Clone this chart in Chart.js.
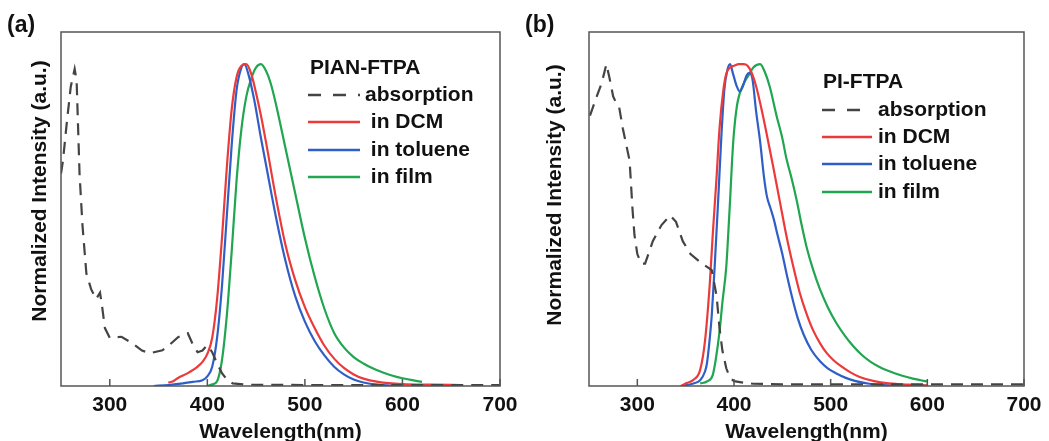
<!DOCTYPE html>
<html>
<head>
<meta charset="utf-8">
<script src="https://cdn.jsdelivr.net/npm/chart.js@4.4.1/dist/chart.umd.min.js"></script>
<style>
  body { margin: 0; background: #fff; }
  #wrap { position: relative; width: 1049px; height: 441px; overflow: hidden; }
  canvas { position: absolute; top: 0; }
</style>
</head>
<body>
<div id="wrap">
  <canvas id="chartA" width="520" height="441" style="left:0"></canvas>
  <canvas id="chartB" width="529" height="441" style="left:520px"></canvas>
</div>
<script>
// ---- data (wavelength in nm, normalized intensity) ----

// (a) PIAN-FTPA
const absA_nm  = [250, 252, 256, 260, 264, 266, 269, 272, 276, 281, 286, 290, 292, 295, 300, 312, 323, 333, 341, 354, 362, 370, 380, 385, 390, 395, 400, 405, 410, 415, 420, 426, 440, 500, 600, 700];
const absA_int = [0.66, 0.70, 0.82, 0.93, 0.985, 0.95, 0.66, 0.50, 0.35, 0.30, 0.27, 0.29, 0.25, 0.18, 0.15, 0.153, 0.133, 0.11, 0.102, 0.111, 0.13, 0.152, 0.164, 0.13, 0.105, 0.11, 0.127, 0.105, 0.07, 0.04, 0.02, 0.008, 0.004, 0.003, 0.003, 0.003];

const dcmA_nm  = [360, 365, 370, 380, 390, 395, 400, 405, 410, 415, 420, 425, 430, 435, 440, 445, 450, 455, 460, 470, 480, 490, 500, 510, 520, 530, 540, 550, 560, 575, 600, 630, 660];
const dcmA_int = [0.01, 0.015, 0.025, 0.04, 0.06, 0.075, 0.1, 0.15, 0.27, 0.46, 0.68, 0.86, 0.96, 0.995, 1.0, 0.97, 0.91, 0.84, 0.76, 0.59, 0.44, 0.33, 0.245, 0.18, 0.125, 0.085, 0.056, 0.036, 0.023, 0.013, 0.006, 0.004, 0.003];

const tolA_nm  = [345, 360, 375, 385, 395, 400, 405, 410, 415, 420, 425, 430, 435, 438, 442, 448, 455, 460, 470, 480, 490, 500, 510, 520, 530, 540, 550, 560, 575, 590, 600];
const tolA_int = [0.0, 0.003, 0.008, 0.013, 0.018, 0.03, 0.06, 0.15, 0.31, 0.53, 0.75, 0.92, 0.99, 1.0, 0.97, 0.89, 0.77, 0.69, 0.53, 0.39, 0.28, 0.2, 0.14, 0.095, 0.06, 0.036, 0.02, 0.011, 0.004, 0.001, 0.0];

const filmA_nm  = [400, 405, 410, 415, 420, 425, 430, 435, 440, 445, 450, 455, 460, 465, 470, 480, 490, 500, 510, 520, 530, 540, 550, 560, 570, 580, 590, 600, 610, 620];
const filmA_int = [0.0, 0.005, 0.015, 0.08, 0.22, 0.42, 0.64, 0.8, 0.9, 0.955, 0.99, 1.0, 0.98, 0.94, 0.88, 0.74, 0.6, 0.46, 0.34, 0.24, 0.165, 0.12, 0.09, 0.07, 0.054, 0.042, 0.032, 0.024, 0.018, 0.013];

// (b) PI-FTPA
const absB_nm  = [251, 258, 263, 268, 271, 275, 278, 281, 285, 292, 295, 297, 300, 304, 308, 316, 325, 334, 340, 347, 355, 365, 377, 382, 385, 388, 392, 396, 400, 410, 420, 450, 500, 550, 600, 650, 700];
const absB_int = [0.84, 0.9, 0.94, 1.0, 0.96, 0.9, 0.88, 0.87, 0.8, 0.7, 0.55, 0.47, 0.41, 0.38, 0.38, 0.45, 0.5, 0.53, 0.51, 0.45, 0.41, 0.385, 0.36, 0.28, 0.18, 0.11, 0.055, 0.025, 0.015, 0.01, 0.007, 0.005, 0.005, 0.005, 0.005, 0.005, 0.005];

const dcmB_nm  = [345, 350, 358, 365, 370, 375, 378, 382, 385, 389, 392, 396, 400, 405, 410, 414, 418, 423, 427, 432, 440, 447, 454, 461, 468, 475, 482, 490, 496, 503, 510, 520, 530, 545, 560, 580, 600];
const dcmB_int = [0.0, 0.008, 0.019, 0.05, 0.14, 0.32, 0.47, 0.65, 0.8, 0.92, 0.97, 0.99, 0.995, 1.0, 1.0, 0.995, 0.975, 0.93, 0.88, 0.81, 0.69, 0.58, 0.47, 0.375, 0.29, 0.225, 0.172, 0.128, 0.102, 0.08, 0.063, 0.043, 0.028, 0.015, 0.008, 0.004, 0.002];

const tolB_nm  = [345, 358, 365, 370, 372, 375, 377, 380, 384, 387, 390, 393, 396, 399, 403, 406, 409, 413, 416, 419, 423, 427, 431, 434, 438, 441, 445, 450, 455, 461, 466, 472, 480, 489, 497, 506, 515, 525, 540, 560, 600];
const tolB_int = [0.0, 0.008, 0.018, 0.045, 0.07, 0.15, 0.22, 0.37, 0.6, 0.78, 0.92, 0.98, 1.0, 0.97, 0.93, 0.915, 0.93, 0.965, 0.973, 0.955, 0.85, 0.76, 0.65, 0.59, 0.55, 0.52, 0.47, 0.41, 0.34, 0.265, 0.21, 0.16, 0.112, 0.077, 0.055, 0.039, 0.026, 0.016, 0.007, 0.002, 0.0];

const filmB_nm  = [365, 372, 378, 381, 385, 388, 392, 394, 396, 398, 400, 403, 406, 410, 415, 420, 427, 432, 437, 444, 450, 454, 460, 465, 470, 475, 482, 489, 497, 506, 515, 523, 532, 541, 550, 558, 567, 575, 585, 593, 600];
const filmB_int = [0.008, 0.014, 0.034, 0.08, 0.168, 0.26, 0.37, 0.47, 0.58, 0.7, 0.79, 0.87, 0.91, 0.94, 0.965, 0.99, 1.0, 0.975, 0.93, 0.84, 0.77, 0.71, 0.64, 0.575, 0.5, 0.433, 0.36, 0.3, 0.245, 0.195, 0.155, 0.125, 0.097, 0.076, 0.06, 0.049, 0.039, 0.031, 0.023, 0.018, 0.014];

const xTicks = [300, 400, 500, 600, 700];
const labelsA = ['absorption', ' in DCM', ' in toluene', ' in film'];
const labelsB = ['absorption', 'in DCM', 'in toluene', 'in film'];

// ---- styling ----
const FONT = '"Liberation Sans", Arial, sans-serif';
const colAbs = '#444444';
const colDcm = '#ec3a3a';
const colTol = '#2f5fc6';
const colFilm = '#20a650';

function toPoints(xs, ys) {
    return xs.map((x, i) => ({ x: x, y: ys[i] }));
}

function makeDatasets(set, labels) {
    return [
        { label: labels[0], data: toPoints(set[0], set[1]), borderColor: colAbs, borderWidth: 2.2, borderDash: [12, 8], tension: 0 },
        { label: labels[1], data: toPoints(set[2], set[3]), borderColor: colDcm, borderWidth: 2.2, cubicInterpolationMode: 'monotone' },
        { label: labels[2], data: toPoints(set[4], set[5]), borderColor: colTol, borderWidth: 2.2, cubicInterpolationMode: 'monotone' },
        { label: labels[3], data: toPoints(set[6], set[7]), borderColor: colFilm, borderWidth: 2.2, cubicInterpolationMode: 'monotone' }
    ];
}

// frame, inward ticks, y title, panel label and the in-plot legend
const decorPlugin = {
    id: 'decor',
    afterDatasetsDraw(chart, args, opts) {
        const ctx = chart.ctx;
        const a = chart.chartArea;
        const xs = chart.scales.x;
        ctx.save();
        ctx.strokeStyle = '#555';
        ctx.lineWidth = 1.5;
        ctx.strokeRect(a.left, a.top, a.right - a.left, a.bottom - a.top);
        ctx.beginPath();
        xTicks.forEach(v => {
            const px = xs.getPixelForValue(v);
            ctx.moveTo(px, a.bottom);
            ctx.lineTo(px, a.bottom - 7);
        });
        ctx.stroke();
        ctx.restore();
    },
    afterDraw(chart, args, opts) {
        const ctx = chart.ctx;
        ctx.save();
        ctx.fillStyle = '#111';
        ctx.font = 'bold 21px ' + FONT;

        // y axis title
        ctx.save();
        ctx.translate(opts.yTitleX, opts.yTitleY);
        ctx.rotate(-Math.PI / 2);
        ctx.textAlign = 'center';
        ctx.textBaseline = 'middle';
        ctx.fillText('Normalized Intensity (a.u.)', 0, 0);
        ctx.restore();

        // panel label
        ctx.font = 'bold 23px ' + FONT;
        ctx.textBaseline = 'middle';
        ctx.textAlign = 'left';
        ctx.fillText(opts.panel, opts.panelX, 26);

        // legend
        const lg = opts.legend;
        ctx.font = 'bold 21px ' + FONT;
        ctx.fillText(lg.title, lg.titleX, lg.titleY);
        chart.data.datasets.forEach((ds, i) => {
            const y = lg.rows[i];
            ctx.beginPath();
            ctx.strokeStyle = ds.borderColor;
            ctx.lineWidth = 2.4;
            ctx.setLineDash(ds.borderDash ? [13, 12] : []);
            ctx.moveTo(lg.lineX0, y);
            ctx.lineTo(lg.lineX1, y);
            ctx.stroke();
            ctx.setLineDash([]);
            ctx.fillStyle = '#111';
            ctx.fillText(ds.label, lg.textX, y);
        });
        ctx.restore();
    }
};

function makeChart(canvasId, datasets, yAxisWidth, rightPad, decor) {
    return new Chart(document.getElementById(canvasId), {
        type: 'line',
        data: { datasets: datasets },
        options: {
            responsive: false,
            animation: false,
            layout: { padding: { top: 32, right: rightPad, left: 0, bottom: 0 } },
            elements: { point: { radius: 0 } },
            plugins: {
                legend: { display: false },
                tooltip: { enabled: false },
                decor: decor
            },
            scales: {
                x: {
                    type: 'linear',
                    min: 250,
                    max: 700,
                    afterBuildTicks: s => { s.ticks = xTicks.map(v => ({ value: v })); },
                    afterFit: s => { s.height = 55; s.paddingLeft = 0; s.paddingRight = 0; },
                    grid: { display: false, drawTicks: false },
                    border: { display: false },
                    ticks: { color: '#111', padding: 7, maxRotation: 0, font: { family: FONT, size: 21, weight: 'bold' } },
                    title: { display: true, text: 'Wavelength(nm)', color: '#111', padding: { top: 0, bottom: -4 }, font: { family: FONT, size: 21, weight: 'bold' } }
                },
                y: {
                    min: 0,
                    max: 1.1,
                    afterFit: s => { s.width = yAxisWidth; },
                    grid: { display: false, drawTicks: false },
                    border: { display: false },
                    ticks: { display: false }
                }
            }
        },
        plugins: [decorPlugin]
    });
}

makeChart('chartA',
    makeDatasets([absA_nm, absA_int, dcmA_nm, dcmA_int, tolA_nm, tolA_int, filmA_nm, filmA_int], labelsA),
    61, 20,
    {
        panel: '(a)', panelX: 7, yTitleX: 40, yTitleY: 191,
        legend: { title: 'PIAN-FTPA', titleX: 310, titleY: 68, lineX0: 308, lineX1: 360, textX: 365, rows: [95, 122, 150, 177] }
    });

makeChart('chartB',
    makeDatasets([absB_nm, absB_int, dcmB_nm, dcmB_int, tolB_nm, tolB_int, filmB_nm, filmB_int], labelsB),
    69, 25,
    {
        panel: '(b)', panelX: 5, yTitleX: 35, yTitleY: 195,
        legend: { title: 'PI-FTPA', titleX: 303, titleY: 82, lineX0: 302, lineX1: 352, textX: 358, rows: [110, 137, 164, 192] }
    });
</script>
</body>
</html>
